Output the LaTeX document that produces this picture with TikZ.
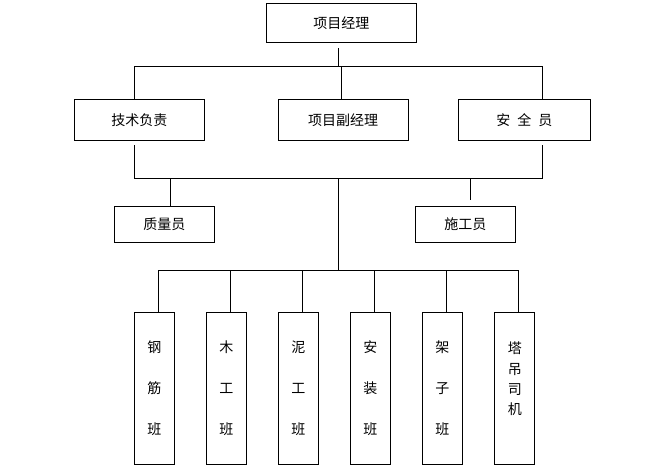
\documentclass[tikz,border=0pt]{standalone}
\usepackage{fontspec}
\newfontfamily\cjk{Noto Sans CJK SC}
\usetikzlibrary{positioning, calc}

\begin{document}
\begin{tikzpicture}[x=1pt, y=-1pt, line width=1pt,
  box/.style={draw, line width=1pt, inner sep=0pt, font=\cjk\fontsize{14}{16}\selectfont},
  crew/.style={box, minimum width=40, minimum height=152, align=center, font=\cjk\fontsize{14}{41.3}\selectfont}]
  \useasboundingbox[fill=white] (0,0) rectangle (666,468);

  % Manager
  \node[box, minimum width=150, minimum height=39] (pm) at (341.4, 23.5) {项目经理};

  % First row
  \node[box, minimum width=130, minimum height=41] (tech) at (139.3, 120.4) {技术负责};
  \node[box, minimum width=130, minimum height=41] (vice) at (343.2, 120.4) {项目副经理};
  \node[box, minimum width=132, minimum height=41] (safe) at (524.3, 120.4) {安\hspace{7pt}全\hspace{7pt}员};

  % Second row
  \node[box, minimum width=100, minimum height=36.5] (qc) at (164.3, 224.3) {质量员};
  \node[box, minimum width=100, minimum height=36.5] (site) at (465.4, 224.3) {施工员};

  % Crews
  \node[crew] (rebar) at (154.3, 388.2) {钢\\筋\\班};
  \node[crew] (carp) at (226.3, 388.2) {木\\工\\班};
  \node[crew] (mason) at (298.3, 388.2) {泥\\工\\班};
  \node[crew] (install) at (370.3, 388.2) {安\\装\\班};
  \node[crew] (scaff) at (442.3, 388.2) {架\\子\\班};
  \node[crew, font=\cjk\fontsize{14}{20.4}\selectfont] (crane) at (514.8, 388.2)
    {\raisebox{8pt}[\height][\depth]{\begin{tabular}{@{}c@{}}塔\\吊\\司\\机\end{tabular}}};

  % Bus lines
  \coordinate (topbus) at (0, 66.4);
  \coordinate (midbus) at (0, 178);
  \coordinate (crewbus) at (0, 270.3);

  % Manager to first row
  \draw[shorten <=5] ([xshift=-3]pm.south) -- ([xshift=-3]pm.south |- topbus);
  \draw ([xshift=-5]tech.north) |- ([xshift=18]safe.north |- topbus) -- ([xshift=18]safe.north);
  \draw ([xshift=-2]vice.north) -- ([xshift=-2]vice.north |- topbus);

  % First row to second row
  \draw[shorten <=4, shorten >=4] ([xshift=-5]tech.south) |- ([xshift=18]safe.south |- midbus) -- ([xshift=18]safe.south);
  \draw ([xshift=6]qc.north |- midbus) -- ([xshift=6]qc.north);
  \draw[shorten >=6] ([xshift=5]site.north |- midbus) -- ([xshift=5]site.north);

  % Down to the crews
  \draw ([xshift=-3]pm.south |- midbus) -- ([xshift=-3]pm.south |- crewbus);
  \draw ([xshift=4]rebar.north) |- ([xshift=4]crane.north |- crewbus) -- ([xshift=4]crane.north);
  \draw ([xshift=4]carp.north) -- ([xshift=4]carp.north |- crewbus);
  \draw ([xshift=4]mason.north) -- ([xshift=4]mason.north |- crewbus);
  \draw ([xshift=4]install.north) -- ([xshift=4]install.north |- crewbus);
  \draw ([xshift=4]scaff.north) -- ([xshift=4]scaff.north |- crewbus);
\end{tikzpicture}
\end{document}
